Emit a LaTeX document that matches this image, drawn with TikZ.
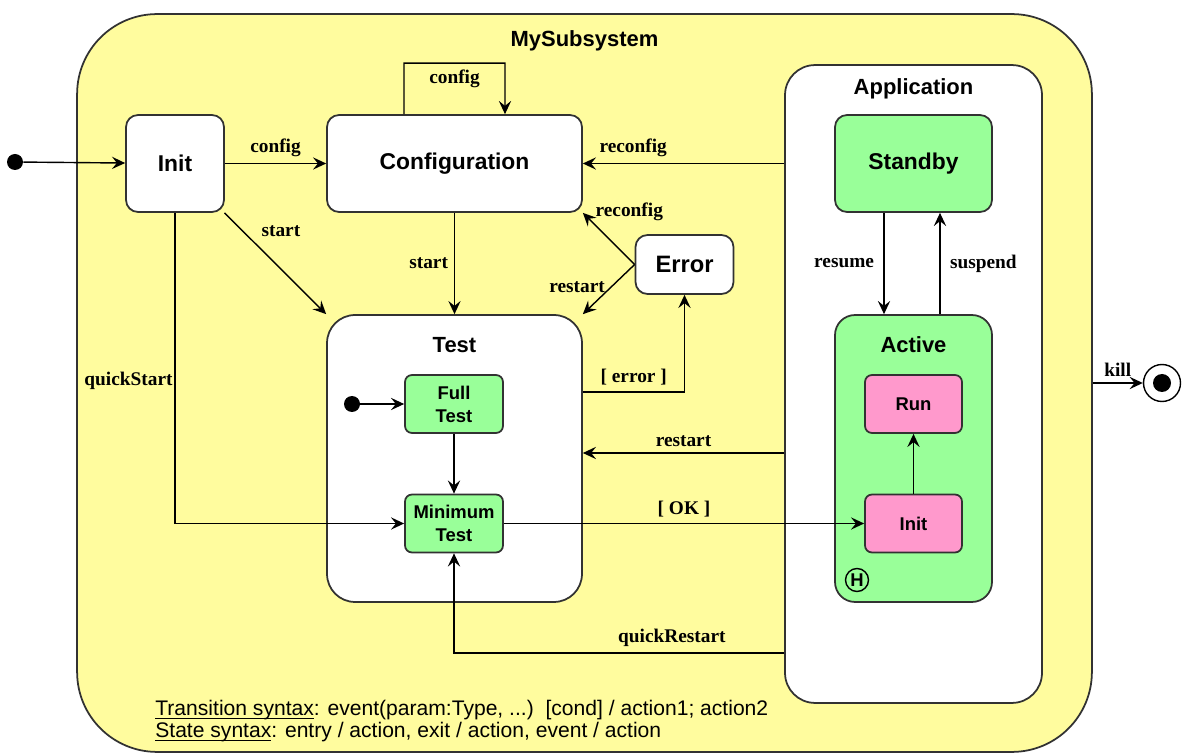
\documentclass[tikz,border=0pt]{standalone}
\usepackage{fontspec}
\setmainfont{Liberation Sans}
\newfontfamily\timesfont{Liberation Serif}
\usepackage{tikz}
\usetikzlibrary{arrows.meta}
\definecolor{subyellow}{RGB}{255, 252, 158}
\definecolor{leafgreen}{RGB}{153, 255, 153}
\definecolor{leafpink}{RGB}{255, 153, 204}
\definecolor{edgegray}{RGB}{50, 50, 50}
\newcommand{\syntaxhead}[1]{\setbox0\hbox{#1}\rlap{\rule[-2.2pt]{\wd0}{1pt}}\box0}

\begin{document}
\begin{tikzpicture}[x=0.02cm, y=-0.02cm,
  simple/.style={draw=edgegray, line width=1pt, fill=white, rounded corners=0.24cm,
    minimum width=1.96cm, minimum height=1.94cm, inner sep=0pt,
    font=\bfseries\fontsize{13}{15}\selectfont},
  leaf/.style={draw=edgegray, line width=1pt, fill=leafgreen, rounded corners=0.14cm,
    minimum width=1.96cm, minimum height=1.16cm, inner sep=0pt, align=center,
    font=\bfseries\fontsize{10.5}{13}\selectfont},
  composite/.style={draw=edgegray, line width=1pt, fill=white, rounded corners=0.6cm},
  ttl/.style={font=\bfseries\fontsize{12.5}{14}\selectfont},
  evt/.style={font=\timesfont\bfseries\fontsize{11}{13}\selectfont},
  trans/.style={draw=black, line width=0.8pt, -{Stealth[length=7.5pt, width=7pt, inset=2.8pt]}},
  dot/.style={circle, fill=black, inner sep=0pt, minimum size=0.32cm},
  note/.style={anchor=west, inner sep=0pt, font=\fontsize{12}{14}\selectfont}]

  \useasboundingbox (0, 0) rectangle (1190, 756);

  % containers
  \node[composite, fill=subyellow, rounded corners=1.6cm, minimum width=20.3cm, minimum height=14.76cm,
    label={[ttl, anchor=center, yshift=-0.56cm]north:MySubsystem}] (sub) at (584.5, 383) {};
  \node[composite, minimum width=5.14cm, minimum height=12.76cm,
    label={[ttl, anchor=center, yshift=-0.5cm]north:Application}] (app) at (913.5, 384) {};
  \node[composite, rounded corners=0.56cm, minimum width=5.1cm, minimum height=5.74cm,
    label={[ttl, anchor=center, yshift=-0.62cm]north:Test}] (test) at (454.5, 458.5) {};
  \node[composite, fill=leafgreen, rounded corners=0.4cm, minimum width=3.14cm, minimum height=5.74cm,
    label={[ttl, anchor=center, yshift=-0.62cm]north:Active}] (active) at (913.5, 458.5) {};

  % states
  \node[dot] (start0) at (15, 162) {};
  \node[simple] (init) at (175, 163.5) {Init};
  \node[simple, minimum width=5.1cm] (config) at (454.5, 163.5) {Configuration};
  \node[simple, minimum height=1.18cm, font=\bfseries\fontsize{13.5}{15}\selectfont] (error) at (684.5, 264.5) {Error};
  \node[dot] (start1) at (352, 404) {};
  \node[leaf] (fulltest) at (454, 404) {Full\\Test};
  \node[leaf] (mintest) at (454, 523.5) {Minimum\\Test};
  \node[simple, fill=leafgreen, minimum width=3.14cm] (standby) at (913.5, 163.5) {Standby};
  \node[leaf, fill=leafpink, minimum width=1.94cm] (run) at (913.5, 404) {Run};
  \node[leaf, fill=leafpink, minimum width=1.94cm] (inita) at (913.5, 523.5) {Init};
  \node[circle, draw=black, line width=0.8pt, inner sep=0pt, minimum size=0.46cm,
    font=\bfseries\fontsize{10.5}{11}\selectfont] (hist) at (857, 580) {H};
  \node[circle, draw=black, line width=0.8pt, fill=white, minimum size=0.74cm] (final) at (1162, 383) {};
  \node[dot, minimum size=0.36cm] (finaldot) at (final) {};

  % transitions
  \draw[trans] (start0) -- (init);
  \draw[trans] (init) -- node[evt, above] {config} (config);
  \draw[trans] ([xshift=-1.01cm]config.north) -- ++(0, -51) -- node[evt, below] {config} ++(101, 0)
    -- ([xshift=1.01cm]config.north);
  \draw[trans] (config) -- node[evt, left] {start} (test);
  \draw[trans] (init) -- node[evt, pos=0.3, above right] {start} (test.north west);
  \draw[trans] (init) |- node[evt, pos=0.27, left, inner sep=1pt] {quickStart} (mintest);
  \draw[trans] (error.west) -- node[evt, pos=0.8, above right, inner sep=1pt] {reconfig} (config.south east);
  \draw[trans] (error.west) -- node[evt, pos=0.45, left] {restart} (test.north east);
  \draw[trans] ([yshift=1.33cm]test.east) -| node[evt, pos=0.25, above] {[ error ]} (error);
  \draw[trans] (app.west |- config) -- node[evt, pos=0.75, above] {reconfig} (config);
  \draw[trans] ([yshift=-1.38cm]app.west) -- node[evt, above] {restart} ([yshift=-1.38cm]app.west -| test.east);
  \draw[trans] ([yshift=-5.38cm]app.west) -| node[evt, pos=0.17, above] {quickRestart} (mintest);
  \draw[trans] (start1) -- (fulltest);
  \draw[trans] (fulltest) -- (mintest);
  \draw[trans] (mintest) -- node[evt, above] {[ OK ]} (inita);
  \draw[trans] ([xshift=-0.59cm]standby.south) -- node[evt, left, xshift=-2pt] {resume} ([xshift=-0.59cm]active.north);
  \draw[trans] ([xshift=0.53cm]active.north) -- node[evt, right, xshift=2pt] {suspend} ([xshift=0.53cm]standby.south);
  \draw[trans] (inita) -- (run);
  \draw[trans] (sub.east |- final) -- node[evt, above] {kill} (final);

  % syntax notes
  \node[note] (tsyntax) at (155, 710)
    {\syntaxhead{Transition syntax}: event(param:Type, ...)\ \ [cond] / action1; action2};
  \node[note] (ssyntax) at (155, 732)
    {\syntaxhead{State syntax}: entry / action, exit / action, event / action};

\end{tikzpicture}
\end{document}
